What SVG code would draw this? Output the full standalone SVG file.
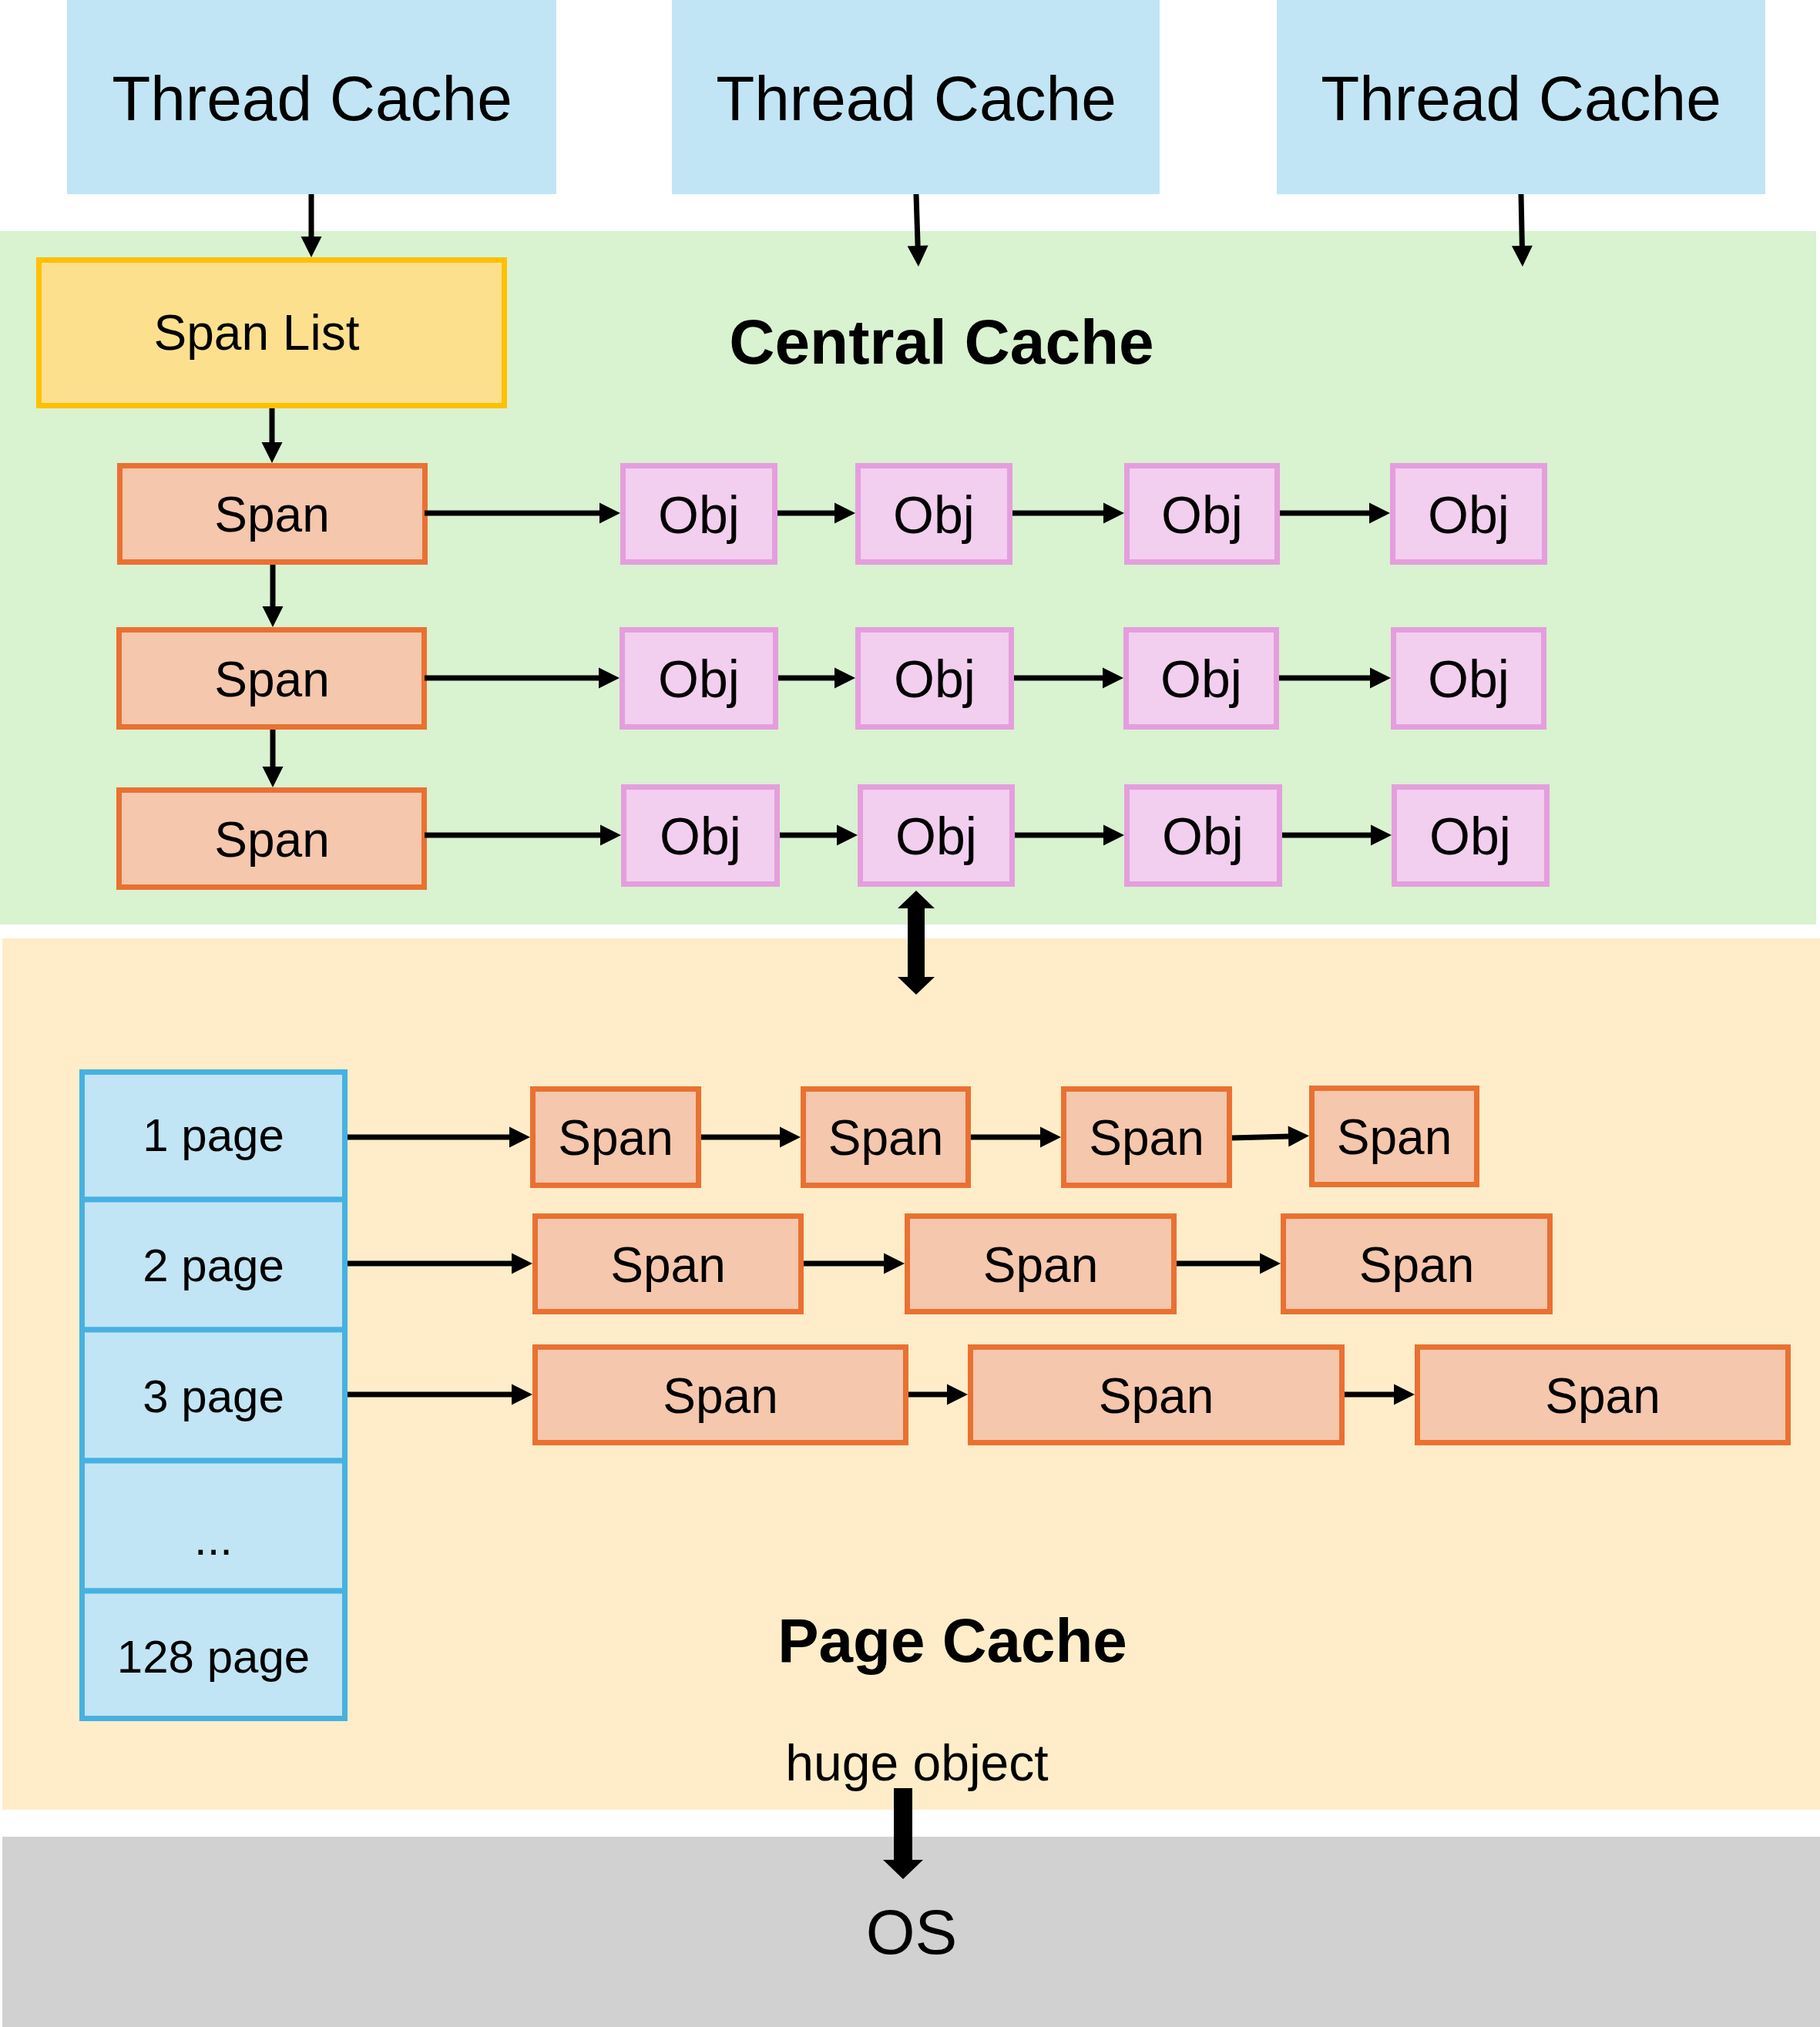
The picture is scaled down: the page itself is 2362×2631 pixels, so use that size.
<svg xmlns="http://www.w3.org/2000/svg" width="2362" height="2631" viewBox="0 0 2362 2631">
<defs>
<style>
.t{font-family:"Liberation Sans",Arial,sans-serif;fill:#000;text-anchor:middle}
.tc{fill:#C1E5F5}
.span{fill:#F5C7AD;stroke:#E97132;stroke-width:7}
.obj{fill:#F2CEEF;stroke:#E49EDD;stroke-width:7}
.cell{fill:#C1E5F5;stroke:#47B1E2;stroke-width:7}
.ln{stroke:#000;stroke-width:7;fill:none;marker-end:url(#ah)}
</style>
<marker id="ah" markerUnits="userSpaceOnUse" markerWidth="27" markerHeight="27" refX="0" refY="13.5" orient="auto" overflow="visible">
<path d="M0,0 L27,13.5 L0,27 Z" fill="#000"/>
</marker>
</defs>

<!-- background regions -->
<rect id="central-cache-bg" x="0" y="300" width="2357" height="900" fill="#D9F2D0"/>
<rect id="page-cache-bg" x="3" y="1218" width="2359" height="1131" fill="#FEEDC8"/>
<rect id="os-bg" x="3" y="2384" width="2359" height="247" fill="#D1D1D1"/>

<g id="thread-cache-1"><rect class="tc" x="87" y="0" width="635" height="252"/><text class="t" x="405" y="156" font-size="82">Thread Cache</text></g>
<g id="thread-cache-2"><rect class="tc" x="872" y="0" width="633" height="252"/><text class="t" x="1189" y="156" font-size="82">Thread Cache</text></g>
<g id="thread-cache-3"><rect class="tc" x="1657" y="0" width="634" height="252"/><text class="t" x="1974" y="156" font-size="82">Thread Cache</text></g>

<g id="central-cache-label"><text class="t" x="1222" y="472" font-size="82" font-weight="bold">Central Cache</text></g>

<g id="span-list"><rect x="50.5" y="337.5" width="604" height="189" fill="#FDE08E" stroke="#FFC000" stroke-width="7"/><text class="t" x="333" y="454" font-size="64">Span List</text></g>

<g id="cc-span-1"><rect class="span" x="155.5" y="604.5" width="396" height="125"/><text class="t" x="353" y="690" font-size="64">Span</text></g>
<g id="cc-span-2"><rect class="span" x="154.5" y="817.5" width="396" height="126"/><text class="t" x="353" y="903.5" font-size="64">Span</text></g>
<g id="cc-span-3"><rect class="span" x="154.5" y="1025.5" width="396" height="126"/><text class="t" x="353" y="1111.5" font-size="64">Span</text></g>

<g id="obj-1-1"><rect class="obj" x="808.5" y="604.5" width="197" height="125"/><text class="t" x="907" y="691.5" font-size="68">Obj</text></g>
<g id="obj-1-2"><rect class="obj" x="1113.5" y="604.5" width="197" height="125"/><text class="t" x="1212" y="691.5" font-size="68">Obj</text></g>
<g id="obj-1-3"><rect class="obj" x="1462.5" y="604.5" width="195" height="125"/><text class="t" x="1560" y="691.5" font-size="68">Obj</text></g>
<g id="obj-1-4"><rect class="obj" x="1807.5" y="604.5" width="197" height="125"/><text class="t" x="1906" y="691.5" font-size="68">Obj</text></g>

<g id="obj-2-1"><rect class="obj" x="807.5" y="817.5" width="199" height="126"/><text class="t" x="907" y="905" font-size="68">Obj</text></g>
<g id="obj-2-2"><rect class="obj" x="1113.5" y="817.5" width="199" height="126"/><text class="t" x="1213" y="905" font-size="68">Obj</text></g>
<g id="obj-2-3"><rect class="obj" x="1461.5" y="817.5" width="195" height="126"/><text class="t" x="1559" y="905" font-size="68">Obj</text></g>
<g id="obj-2-4"><rect class="obj" x="1808.5" y="817.5" width="195" height="126"/><text class="t" x="1906" y="905" font-size="68">Obj</text></g>

<g id="obj-3-1"><rect class="obj" x="809.5" y="1021.5" width="199" height="126"/><text class="t" x="909" y="1109" font-size="68">Obj</text></g>
<g id="obj-3-2"><rect class="obj" x="1116.5" y="1021.5" width="197" height="126"/><text class="t" x="1215" y="1109" font-size="68">Obj</text></g>
<g id="obj-3-3"><rect class="obj" x="1462.5" y="1021.5" width="198" height="126"/><text class="t" x="1561" y="1109" font-size="68">Obj</text></g>
<g id="obj-3-4"><rect class="obj" x="1809.5" y="1021.5" width="198" height="126"/><text class="t" x="1908" y="1109" font-size="68">Obj</text></g>

<g id="page-list">
<rect class="cell" x="106.5" y="1391.5" width="341" height="165.5"/><text class="t" x="277" y="1494" font-size="60">1 page</text>
<rect class="cell" x="106.5" y="1557" width="341" height="169"/><text class="t" x="277" y="1663" font-size="60">2 page</text>
<rect class="cell" x="106.5" y="1726" width="341" height="170"/><text class="t" x="277" y="1833" font-size="60">3 page</text>
<rect class="cell" x="106.5" y="1896" width="341" height="169"/><text class="t" x="277" y="2018" font-size="60">...</text>
<rect class="cell" x="106.5" y="2065" width="341" height="165.5"/><text class="t" x="277" y="2171" font-size="60">128 page</text>
</g>

<g id="pc-span-1-1"><rect class="span" x="691.5" y="1413.5" width="215" height="125"/><text class="t" x="799" y="1499" font-size="64">Span</text></g>
<g id="pc-span-1-2"><rect class="span" x="1042.5" y="1413.5" width="214" height="125"/><text class="t" x="1149.5" y="1499" font-size="64">Span</text></g>
<g id="pc-span-1-3"><rect class="span" x="1380.5" y="1413.5" width="215" height="125"/><text class="t" x="1488" y="1499" font-size="64">Span</text></g>
<g id="pc-span-1-4"><rect class="span" x="1702.5" y="1412.5" width="214" height="125"/><text class="t" x="1809.5" y="1498" font-size="64">Span</text></g>

<g id="pc-span-2-1"><rect class="span" x="694.5" y="1578.5" width="345" height="124"/><text class="t" x="867" y="1663.5" font-size="64">Span</text></g>
<g id="pc-span-2-2"><rect class="span" x="1177.5" y="1578.5" width="346" height="124"/><text class="t" x="1350.5" y="1663.5" font-size="64">Span</text></g>
<g id="pc-span-2-3"><rect class="span" x="1665.5" y="1578.5" width="346" height="124"/><text class="t" x="1838.5" y="1663.5" font-size="64">Span</text></g>

<g id="pc-span-3-1"><rect class="span" x="694.5" y="1748.5" width="481" height="124"/><text class="t" x="935" y="1833.5" font-size="64">Span</text></g>
<g id="pc-span-3-2"><rect class="span" x="1259.5" y="1748.5" width="482" height="124"/><text class="t" x="1500.5" y="1833.5" font-size="64">Span</text></g>
<g id="pc-span-3-3"><rect class="span" x="1839.5" y="1748.5" width="481" height="124"/><text class="t" x="2080" y="1833.5" font-size="64">Span</text></g>

<g id="page-cache-label"><text class="t" x="1236" y="2157" font-size="80" font-weight="bold">Page Cache</text></g>
<g id="huge-object-label"><text class="t" x="1190" y="2311" font-size="66">huge object</text></g>
<g id="os-label"><text class="t" x="1183" y="2536" font-size="82">OS</text></g>

<g id="connectors">
<path class="ln" d="M404,252 L404,307"/>
<path class="ln" d="M1189,252 L1191.1,319"/>
<path class="ln" d="M1974,252 L1975.4,319"/>
<path class="ln" d="M353,530 L353,574"/>
<path class="ln" d="M354,733 L354,787"/>
<path class="ln" d="M354,947 L354,995"/>

<path class="ln" d="M551,666 L778,666"/>
<path class="ln" d="M1009,666 L1083,666"/>
<path class="ln" d="M1314,666 L1432,666"/>
<path class="ln" d="M1661,666 L1777,666"/>

<path class="ln" d="M551,880 L777,880"/>
<path class="ln" d="M1010,880 L1083,880"/>
<path class="ln" d="M1316,880 L1431,880"/>
<path class="ln" d="M1660,880 L1778,880"/>

<path class="ln" d="M551,1084 L779,1084"/>
<path class="ln" d="M1012,1084 L1086,1084"/>
<path class="ln" d="M1317,1084 L1432,1084"/>
<path class="ln" d="M1664,1084 L1779,1084"/>

<path class="ln" d="M451,1476 L661,1476"/>
<path class="ln" d="M910,1476 L1012,1476"/>
<path class="ln" d="M1260,1476 L1350,1476"/>
<path class="ln" d="M1599,1477 L1672,1475"/>

<path class="ln" d="M451,1640 L664,1640"/>
<path class="ln" d="M1043,1640 L1147,1640"/>
<path class="ln" d="M1527,1640 L1635,1640"/>

<path class="ln" d="M451,1810 L664,1810"/>
<path class="ln" d="M1179,1810 L1229,1810"/>
<path class="ln" d="M1745,1810 L1809,1810"/>

<polygon id="double-arrow" points="1189,1156 1213,1179 1200,1179 1200,1268 1213,1268 1189,1291 1165,1268 1178,1268 1178,1179 1165,1179" fill="#000"/>
<polygon id="huge-arrow" points="1160,2321 1184,2321 1184,2414 1198,2414 1172,2439 1146,2414 1160,2414" fill="#000"/>
</g>
</svg>
